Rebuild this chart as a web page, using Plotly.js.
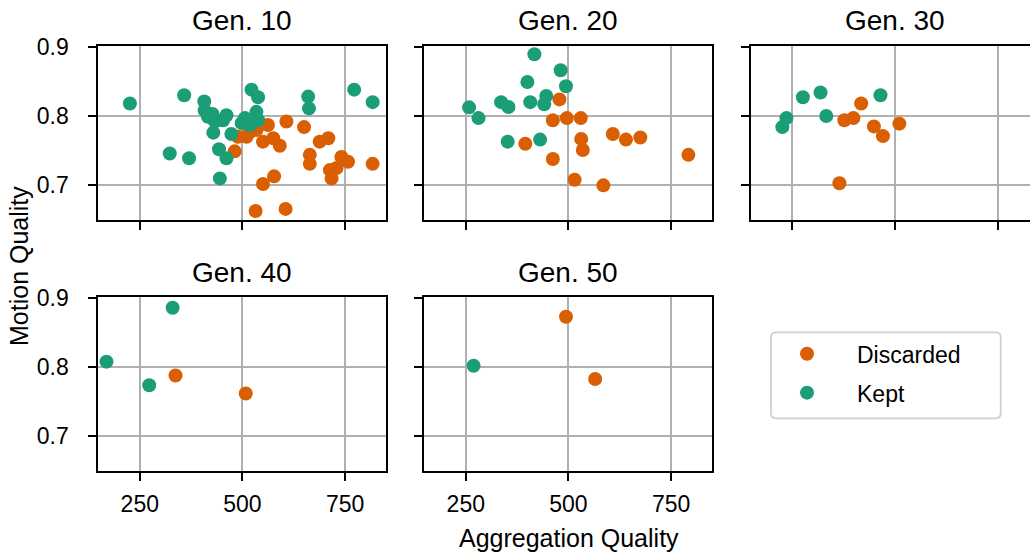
<!DOCTYPE html>
<html>
<head>
<meta charset="utf-8">
<script src="https://cdn.plot.ly/plotly-3.0.1.min.js"></script>
<style>
  html, body { margin: 0; padding: 0; background: #ffffff; }
  #chart { width: 1030px; height: 554px; }
</style>
</head>
<body>
<div id="chart"></div>
<script>
// Generation snapshots: aggregation quality (x) vs motion quality (y)
const generations = ["Gen. 10", "Gen. 20", "Gen. 30", "Gen. 40", "Gen. 50"];
const categories = ["Discarded", "Kept"];

const gen10DiscardedX = [481, 489, 510, 550, 534, 562, 607, 575, 591, 650, 688, 709, 664, 664, 741, 757, 713, 729, 717, 817, 577, 550, 532, 605, 542, 518];
const gen10DiscardedY = [0.749, 0.770, 0.770, 0.763, 0.780, 0.787, 0.792, 0.768, 0.757, 0.784, 0.763, 0.768, 0.744, 0.731, 0.741, 0.734, 0.722, 0.725, 0.710, 0.731, 0.713, 0.702, 0.663, 0.666, 0.787, 0.777];
const gen10KeptX = [226, 358, 407, 408, 427, 461, 433, 453, 429, 473, 443, 461, 445, 323, 370, 498, 522, 538, 534, 538, 518, 660, 662, 772, 817, 506, 416];
const gen10KeptY = [0.818, 0.830, 0.821, 0.808, 0.803, 0.801, 0.792, 0.794, 0.776, 0.774, 0.752, 0.739, 0.710, 0.746, 0.739, 0.790, 0.838, 0.827, 0.806, 0.794, 0.787, 0.828, 0.811, 0.838, 0.820, 0.797, 0.799];

const gen20DiscardedX = [478, 462, 496, 530, 531, 535, 395, 462, 608, 640, 675, 792, 515, 585];
const gen20DiscardedY = [0.824, 0.794, 0.797, 0.797, 0.767, 0.751, 0.760, 0.738, 0.774, 0.766, 0.769, 0.744, 0.708, 0.700];
const gen20KeptX = [417, 481, 494, 400, 336, 354, 258, 281, 407, 446, 441, 352, 431];
const gen20KeptY = [0.889, 0.866, 0.843, 0.849, 0.820, 0.813, 0.8125, 0.797, 0.820, 0.829, 0.817, 0.763, 0.766];

const gen30DiscardedX = [365, 377, 399, 418, 449, 471, 511];
const gen30DiscardedY = [0.703, 0.794, 0.797, 0.818, 0.785, 0.771, 0.789];
const gen30KeptX = [226, 236, 276, 319, 333, 465];
const gen30KeptY = [0.784, 0.797, 0.827, 0.834, 0.800, 0.830];

const gen40DiscardedX = [337, 508];
const gen40DiscardedY = [0.788, 0.762];
const gen40KeptX = [169, 330, 273];
const gen40KeptY = [0.808, 0.886, 0.774];

const gen50DiscardedX = [494, 565];
const gen50DiscardedY = [0.873, 0.783];
const gen50KeptX = [269];
const gen50KeptY = [0.802];

const xTicks = [250, 500, 750];
const yTicks = [0.7, 0.8, 0.9];

const panels = [
  { dx: gen10DiscardedX, dy: gen10DiscardedY, kx: gen10KeptX, ky: gen10KeptY },
  { dx: gen20DiscardedX, dy: gen20DiscardedY, kx: gen20KeptX, ky: gen20KeptY },
  { dx: gen30DiscardedX, dy: gen30DiscardedY, kx: gen30KeptX, ky: gen30KeptY },
  { dx: gen40DiscardedX, dy: gen40DiscardedY, kx: gen40KeptX, ky: gen40KeptY },
  { dx: gen50DiscardedX, dy: gen50DiscardedY, kx: gen50KeptX, ky: gen50KeptY }
];

const colors = { Discarded: "#d95f02", Kept: "#1b9e77" };
const FONT = "Liberation Sans, Arial, sans-serif";

const W = 1030, H = 554;
const px = v => v / W;
const py = v => (H - v) / H;

// panel frames in pixels: [left, right] columns and [top, bottom] rows
const cols = [[98.3, 386.3], [424.3, 711.7], [750.7, 1038.7]];
const rows = [[46, 220], [297.3, 471]];
const xScale = 0.4107;            // px per unit of aggregation quality
const xMin = 149;
const yRange = [0.65, 0.901];

const traces = [];
panels.forEach((p, i) => {
  const suffix = i === 0 ? "" : String(i + 1);
  const common = { type: "scatter", mode: "markers", xaxis: "x" + suffix, yaxis: "y" + suffix, hoverinfo: "x+y" };
  traces.push(Object.assign({}, common, {
    x: p.dx, y: p.dy, name: categories[0],
    legendgroup: categories[0], showlegend: i === 0,
    marker: { color: colors.Discarded, size: 14, line: { width: 0 } }
  }));
  traces.push(Object.assign({}, common, {
    x: p.kx, y: p.ky, name: categories[1],
    legendgroup: categories[1], showlegend: i === 0,
    marker: { color: colors.Kept, size: 14, line: { width: 0 } }
  }));
});

// rounded frame drawn behind the legend entries
function roundedRect(x0, y0, x1, y1, r) {
  const X = v => px(v), Y = v => py(v);
  return "M" + X(x0 + r) + "," + Y(y0) +
    " L" + X(x1 - r) + "," + Y(y0) +
    " Q" + X(x1) + "," + Y(y0) + " " + X(x1) + "," + Y(y0 + r) +
    " L" + X(x1) + "," + Y(y1 - r) +
    " Q" + X(x1) + "," + Y(y1) + " " + X(x1 - r) + "," + Y(y1) +
    " L" + X(x0 + r) + "," + Y(y1) +
    " Q" + X(x0) + "," + Y(y1) + " " + X(x0) + "," + Y(y1 - r) +
    " L" + X(x0) + "," + Y(y0 + r) +
    " Q" + X(x0) + "," + Y(y0) + " " + X(x0 + r) + "," + Y(y0) + " Z";
}

const layout = {
  width: W, height: H,
  margin: { l: 0, r: 0, t: 0, b: 0, pad: 0 },
  paper_bgcolor: "#ffffff",
  plot_bgcolor: "#ffffff",
  font: { family: FONT, color: "#000000", size: 23 },
  showlegend: true,
  legend: {
    x: px(757), y: py(332.3), xanchor: "left", yanchor: "top",
    bgcolor: "rgba(0,0,0,0)", borderwidth: 0,
    font: { family: FONT, size: 23, color: "#000000" },
    itemwidth: 90, traceorder: "grouped", tracegroupgap: 6
  },
  shapes: [{
    type: "path", xref: "paper", yref: "paper", layer: "below",
    path: roundedRect(771, 332.3, 1000.7, 418.3, 5),
    line: { color: "#d0d0d0", width: 1.8 }, fillcolor: "#ffffff"
  }],
  annotations: [],
  hovermode: "closest"
};

panels.forEach((p, i) => {
  const r = i < 3 ? 0 : 1;
  const c = i < 3 ? i : i - 3;
  const suffix = i === 0 ? "" : String(i + 1);
  const [l, rr] = cols[c];
  const [t, b] = rows[r];
  const right = Math.min(W, rr);
  const xmax = xMin + (right - l) / xScale;
  const axisBase = {
    showline: true, mirror: true, linecolor: "#000000", linewidth: 1.8,
    ticks: "outside", ticklen: 8, tickwidth: 1.8, tickcolor: "#000000",
    showgrid: true, gridcolor: "#b0b0b0", gridwidth: 1.6,
    zeroline: false, fixedrange: true,
    tickfont: { family: FONT, size: 23, color: "#000000" }
  };
  layout["xaxis" + suffix] = Object.assign({}, axisBase, {
    domain: [px(l), px(right)],
    range: [xMin, xmax],
    anchor: "y" + suffix,
    tickmode: "array", tickvals: xTicks, ticktext: xTicks.map(String),
    showticklabels: r === 1, ticklabelstandoff: 3
  });
  layout["yaxis" + suffix] = Object.assign({}, axisBase, {
    domain: [py(b), py(t)],
    range: yRange,
    anchor: "x" + suffix,
    tickmode: "array", tickvals: yTicks, ticktext: yTicks.map(v => v.toFixed(1)),
    showticklabels: c === 0, ticklabelstandoff: 15
  });
  layout.annotations.push({
    text: generations[i], xref: "paper", yref: "paper",
    x: px((l + rr) / 2), y: py(t - 25),
    xanchor: "center", yanchor: "middle", showarrow: false,
    font: { family: FONT, size: 28, color: "#000000" }
  });
});

layout.annotations.push({
  text: "Aggregation Quality", xref: "paper", yref: "paper",
  x: px(569), y: py(538), xanchor: "center", yanchor: "middle", showarrow: false,
  font: { family: FONT, size: 25, color: "#000000" }
});
layout.annotations.push({
  text: "Motion Quality", xref: "paper", yref: "paper", textangle: -90,
  x: px(19), y: py(266), xanchor: "center", yanchor: "middle", showarrow: false,
  font: { family: FONT, size: 25, color: "#000000" }
});

Plotly.newPlot("chart", traces, layout, { displayModeBar: false });
</script>
</body>
</html>
